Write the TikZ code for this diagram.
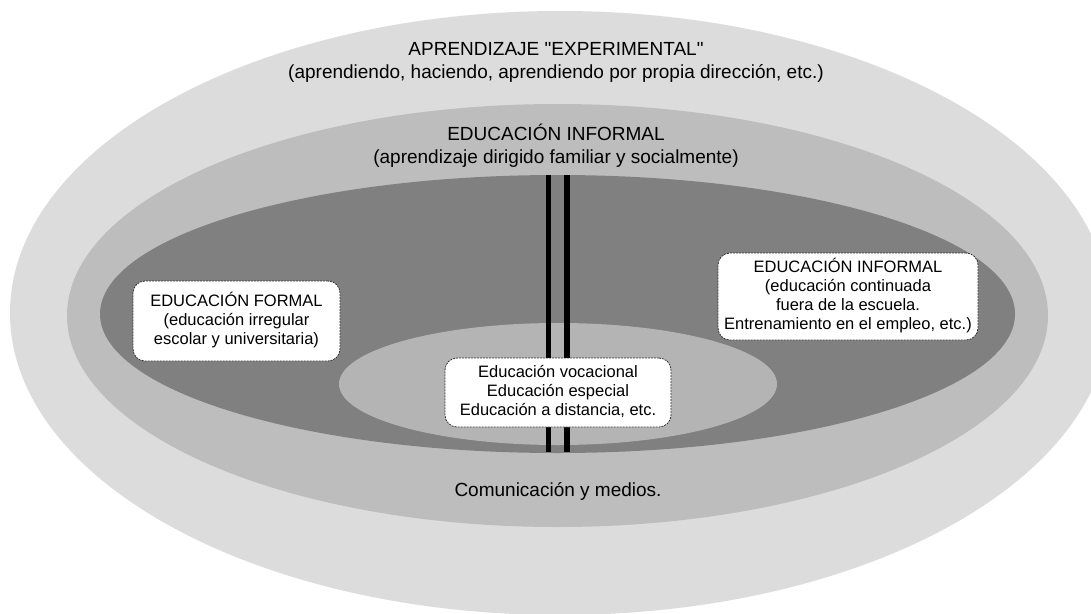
\documentclass[tikz,border=0pt]{standalone}
\usepackage{fontspec}
\setmainfont{Liberation Sans}[Ligatures=TeXOff]
\definecolor{outergray}{HTML}{DCDCDC}
\definecolor{midgray}{HTML}{BDBDBD}
\definecolor{darkgray}{HTML}{808080}
\definecolor{innergray}{HTML}{B4B4B4}
\definecolor{boxborder}{HTML}{333333}
\tikzset{
  lbl/.style={align=center, inner sep=0pt, font=\fontsize{19}{23}\selectfont},
  infobox/.style={draw=boxborder, dash pattern=on 2pt off 1pt, line width=0.8pt,
    fill=white, rounded corners=12pt, align=center, inner sep=0pt,
    font=\fontsize{16.5}{19}\selectfont},
  bar/.style={line width=5.5pt, draw=black}
}
\begin{document}
\begin{tikzpicture}[x=1pt,y=-1pt]
\useasboundingbox (0,0) rectangle (1091,613);
\clip (0,0) rectangle (1091,613);
\fill[white] (0,0) rectangle (1091,613);
% ellipses
\fill[outergray] (560,313) ellipse [x radius=550pt, y radius=302pt];
\fill[midgray] (557.5,315.5) ellipse [x radius=490.5pt, y radius=211.5pt];
\fill[darkgray] (557.5,314) ellipse [x radius=457.5pt, y radius=139pt];
\fill[innergray] (558,384) ellipse [x radius=219pt, y radius=61pt];
% double bar
\coordinate (b1t) at (548.5,175);
\coordinate (b1b) at (548.5,452);
\coordinate (b2t) at (567,175);
\coordinate (b2b) at (567,452);
\draw[bar] (b1t) -- (b1b);
\draw[bar] (b2t) -- (b2b);
% labels
\node[lbl] (exp) at (556,62) {\strut APRENDIZAJE "EXPERIMENTAL"\\\strut(aprendiendo, haciendo, aprendiendo por propia dirección, etc.)};
\node[lbl] (inf) at (556,147) {\strut EDUCACIÓN INFORMAL\\\strut(aprendizaje dirigido familiar y socialmente)};
\node[lbl] (com) at (558,491.5) {\strut Comunicación y medios.};
% boxes
\node[infobox, minimum width=207pt, minimum height=80pt] (formal) at (236.5,321)
  {\strut EDUCACIÓN FORMAL\\\strut(educación irregular\\\strut escolar y universitaria)};
\node[infobox, minimum width=260pt, minimum height=87pt] (informal) at (848,296.5)
  {\strut EDUCACIÓN INFORMAL\\\strut(educación continuada\\\strut fuera de la escuela.\\\strut Entrenamiento en el empleo, etc.)};
\node[infobox, minimum width=226pt, minimum height=69pt] (voc) at (558,392.5)
  {\strut Educación vocacional\\\strut Educación especial\\\strut Educación a distancia, etc.};
\end{tikzpicture}
\end{document}
